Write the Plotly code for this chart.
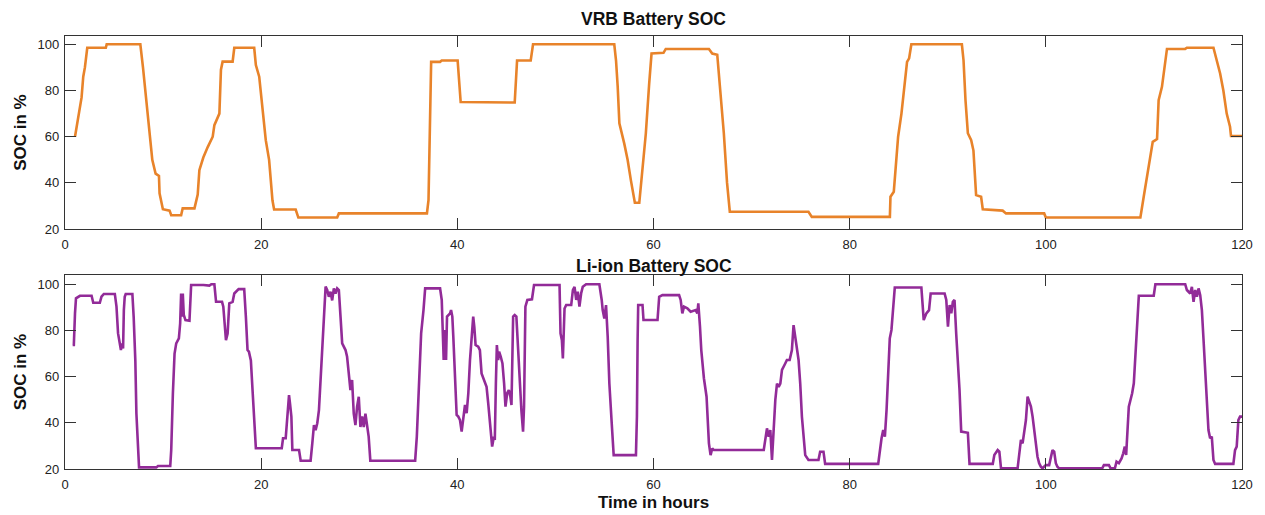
import plotly.graph_objects as go

# ---------------- data ----------------
vrb_t = [
    1.02, 1.25, 1.69, 1.86, 2.03, 2.27, 4.16, 4.25, 7.68, 7.95,
    8.29, 8.63, 8.9, 9.24, 9.58, 9.64, 9.98, 10.66, 10.83, 11.84,
    12.0, 13.2, 13.53, 13.7, 14.1, 14.55, 15.06, 15.23, 15.74, 15.9,
    16.07, 17.09, 17.26, 19.29, 19.46, 19.8, 20.13, 20.47, 20.81, 21.15,
    21.32, 23.52, 23.79, 27.75, 27.92, 36.9, 37.06, 37.13, 37.23, 37.33,
    38.24, 38.41, 40.03, 40.17, 40.34, 45.85, 45.92, 46.09, 47.48, 47.72,
    56.0, 56.18, 56.35, 56.52, 57.02, 57.36, 57.7, 58.1, 58.55, 58.88,
    59.22, 59.56, 59.8, 61.02, 61.25, 65.65, 65.99, 66.5, 66.84, 67.17,
    67.5, 67.78, 75.8, 76.14, 84.1, 84.16, 84.5, 84.7, 84.94, 85.28,
    85.52, 85.72, 85.85, 86.06, 86.29, 91.44, 91.61, 91.81, 92.05, 92.39,
    92.62, 92.89, 93.4, 93.57, 95.6, 95.94, 99.83, 100.0, 109.64, 109.98,
    110.32, 110.9, 111.34, 111.5, 111.84, 112.18, 112.35, 114.21, 114.38, 117.09,
    117.43, 117.77, 118.1, 118.44, 118.78, 118.88, 120.0,
]
vrb_soc = [
    60, 66, 77, 86, 90, 98.5, 98.5, 100, 100, 90,
    75.8, 61.5, 50, 44, 43, 35.5, 28.6, 28, 26, 26,
    29, 29, 35, 45.5, 51, 55.5, 60, 65, 70, 89,
    92.5, 92.5, 98.5, 98.5, 91, 86, 73, 58.5, 50, 32.5,
    28.5, 28.5, 25, 25, 26.8, 26.8, 32.5, 52.8, 63.5, 92.4,
    92.4, 93, 93, 86, 75, 74.8, 81.6, 93, 93, 100,
    100, 93, 81.6, 65.8, 57, 50, 41, 31.4, 31.4, 47,
    61.5, 83, 96, 96.3, 98, 98, 96, 95.5, 79, 61.5,
    40, 27.5, 27.5, 25.3, 25.3, 34, 36.2, 45.5, 60, 70,
    80, 86, 92.4, 93.9, 100, 100, 93, 75.8, 61.5, 58.5,
    54, 34.7, 34, 28.6, 28, 26.8, 26.8, 25, 25, 34,
    42.6, 57.8, 59, 75.8, 81.6, 93, 98, 98, 98.5, 98.5,
    93, 87.4, 80, 70, 64.3, 60.3, 60.3,
]

li_t = [
    0.78, 0.9, 1.02, 1.12, 1.52, 2.71, 2.88, 3.55, 3.72, 3.96,
    5.08, 5.25, 5.41, 5.58, 5.7, 5.79, 5.92, 6.0, 6.09, 6.19,
    6.87, 7.0, 7.17, 7.28, 7.45, 7.55, 9.31, 9.48, 10.73, 10.83,
    11.0, 11.17, 11.34, 11.61, 11.74, 11.84, 11.95, 12.01, 12.11, 12.28,
    12.69, 12.86, 14.11, 14.72, 14.92, 15.23, 15.4, 16.01, 16.14, 16.24,
    16.41, 16.58, 16.75, 17.09, 17.26, 17.7, 18.27, 18.44, 18.61, 18.75,
    18.85, 18.95, 19.12, 19.29, 19.46, 22.1, 22.23, 22.5, 22.67, 22.84,
    22.94, 23.08, 23.18, 23.86, 24.03, 25.04, 25.21, 25.38, 25.55, 25.72,
    25.89, 26.06, 26.23, 26.4, 26.57, 26.73, 26.9, 27.07, 27.24, 27.41,
    27.58, 27.75, 27.92, 28.09, 28.26, 28.6, 28.76, 28.93, 29.1, 29.27,
    29.44, 29.61, 29.78, 29.95, 30.12, 30.29, 30.46, 30.63, 30.79, 30.96,
    31.13, 35.7, 35.87, 36.04, 36.31, 36.55, 36.72, 38.24, 38.41, 38.51,
    38.61, 38.75, 38.85, 38.95, 39.09, 39.26, 39.36, 39.49, 39.59, 39.76,
    39.93, 40.1, 40.27, 40.44, 40.61, 40.78, 40.95, 41.12, 41.29, 41.46,
    41.62, 41.73, 41.86, 42.13, 42.3, 42.47, 42.74, 42.98, 43.15, 43.42,
    43.55, 43.72, 43.82, 43.93, 44.03, 44.16, 44.26, 44.43, 44.6, 44.77,
    44.91, 45.08, 45.25, 45.41, 45.52, 45.69, 45.85, 46.02, 46.19, 46.36,
    46.53, 46.7, 46.8, 46.94, 47.14, 47.61, 47.82, 50.42, 50.52, 50.66,
    50.76, 50.93, 51.1, 51.61, 51.78, 51.95, 52.12, 52.28, 52.45, 52.62,
    52.79, 53.13, 54.48, 54.72, 54.82, 54.99, 55.16, 55.33, 55.5, 55.74,
    55.94, 58.21, 58.31, 58.38, 58.44, 58.88, 58.98, 60.41, 60.58, 60.91,
    62.61, 62.77, 62.94, 63.11, 63.45, 63.79, 64.3, 64.47, 64.57, 64.74,
    64.87, 65.14, 65.41, 65.65, 65.82, 65.99, 66.16, 71.24, 71.4, 71.57,
    71.74, 71.91, 72.08, 72.25, 72.42, 72.59, 72.76, 72.93, 73.1, 73.43,
    73.6, 73.88, 74.11, 74.28, 74.45, 74.62, 74.79, 74.96, 75.13, 75.47,
    75.8, 76.82, 76.99, 77.33, 77.5, 82.91, 83.08, 83.25, 83.42, 83.59,
    83.76, 83.93, 84.09, 84.26, 84.43, 84.6, 87.31, 87.48, 87.55, 87.82,
    88.09, 88.26, 89.68, 89.85, 90.02, 90.19, 90.36, 90.52, 90.69, 90.86,
    91.03, 91.2, 91.37, 92.05, 92.22, 94.59, 94.75, 94.92, 95.09, 95.26,
    95.43, 97.12, 97.29, 97.46, 97.63, 97.8, 97.97, 98.14, 98.31, 98.48,
    98.65, 98.82, 98.98, 99.15, 99.32, 99.49, 99.66, 100.0, 100.34, 100.51,
    100.68, 100.85, 101.02, 101.18, 101.35, 105.75, 105.92, 106.43, 106.6, 107.04,
    107.21, 107.45, 107.72, 107.89, 108.05, 108.19, 108.29, 108.46, 108.63, 108.8,
    108.97, 109.14, 109.31, 109.48, 111.0, 111.17, 114.21, 114.38, 114.72, 114.89,
    115.06, 115.23, 115.4, 115.57, 115.74, 115.91, 116.07, 116.24, 116.41, 116.58,
    116.75, 116.92, 117.09, 117.26, 119.12, 119.29, 119.46, 119.63, 119.8, 120.0,
]
li_soc = [
    73.7, 73.7, 87.4, 93.9, 95.0, 95.0, 92.0, 92.0, 94.6, 95.8,
    95.8, 90.3, 78.7, 73.0, 71.5, 74.4, 72.2, 88.8, 94.6, 95.8,
    95.8, 86.0, 67.0, 44.0, 29.7, 20.7, 20.7, 21.3, 21.3, 28.2,
    52.8, 70.0, 74.4, 76.6, 83.0, 96.0, 86.0, 96.0, 86.7, 84.5,
    84.2, 99.7, 99.7, 99.4, 100, 100, 92.4, 92.4, 90.3, 84.5,
    75.8, 78.7, 91.7, 92.4, 96.0, 97.9, 97.9, 86.0, 71.5, 70.8,
    68.6, 67.0, 54.2, 42.7, 29.0, 29.0, 33.3, 33.3, 41.2, 52.0,
    48.4, 42.7, 28.2, 28.2, 23.6, 23.6, 31.0, 39.0, 36.8, 39.8,
    45.5, 58.5, 71.5, 86.0, 99.0, 97.5, 94.6, 96.8, 93.0, 98.2,
    96.0, 98.2, 97.5, 86.0, 74.4, 71.5, 68.6, 61.4, 54.2, 58.5,
    44.0, 39.0, 47.0, 51.3, 38.2, 42.7, 38.2, 44.0, 39.8, 34.0,
    23.6, 23.6, 34.0, 49.9, 78.7, 88.8, 98.2, 98.2, 93.2, 80.2,
    67.2, 80.2, 67.2, 86.0, 86.7, 87.4, 88.8, 86.0, 77.3, 60.0,
    43.4, 42.7, 41.2, 36.2, 41.2, 47.7, 44.2, 52.8, 67.2, 78.7,
    86.0, 81.6, 73.7, 73.0, 71.5, 61.4, 58.5, 55.6, 48.4, 36.9,
    29.7, 34.0, 32.6, 57.0, 73.7, 67.2, 70.8, 68.6, 65.7, 57.0,
    47.0, 52.8, 54.2, 51.3, 47.7, 86.0, 86.7, 86.0, 71.5, 62.9,
    45.5, 36.2, 47.0, 90.3, 93.2, 93.5, 99.7, 99.7, 78.7, 75.8,
    67.9, 89.5, 91.0, 91.0, 97.5, 98.9, 93.2, 96.8, 90.3, 96.0,
    98.9, 100, 100, 93.2, 88.8, 85.2, 91.0, 77.3, 57.0, 39.8,
    26.0, 26.0, 42.7, 75.8, 91.0, 91.0, 84.5, 84.5, 94.6, 95.3,
    95.3, 93.2, 87.4, 90.3, 89.6, 88.1, 88.8, 87.4, 91.7, 81.6,
    71.5, 59.3, 51.3, 31.1, 26.0, 28.9, 28.2, 28.2, 34.0, 37.6,
    34.0, 36.9, 23.9, 36.9, 49.9, 57.0, 55.6, 57.0, 62.9, 65.7,
    67.2, 67.2, 71.5, 82.3, 76.6, 71.5, 67.2, 57.0, 42.7, 26.0,
    23.9, 23.9, 27.5, 27.5, 22.2, 22.2, 28.2, 33.3, 36.9, 34.0,
    45.5, 62.9, 76.6, 80.2, 89.6, 98.6, 98.6, 88.1, 84.5, 87.4,
    88.8, 96.0, 96.0, 93.2, 81.6, 91.0, 87.4, 92.4, 93.2, 78.7,
    67.2, 54.2, 36.2, 35.7, 22.2, 22.2, 26.1, 27.5, 28.2, 27.5,
    20.3, 20.3, 26.1, 32.6, 31.1, 36.9, 41.2, 51.3, 49.1, 47.0,
    42.7, 36.9, 29.7, 25.3, 22.5, 21.0, 20.3, 21.7, 21.7, 25.3,
    28.2, 27.5, 22.5, 21.0, 20.3, 20.3, 21.7, 21.7, 20.3, 20.3,
    23.2, 22.5, 24.6, 26.8, 29.7, 26.1, 32.6, 47.0, 49.9, 52.8,
    57.1, 71.5, 86.0, 95.0, 95.0, 100, 100, 97.5, 96.0, 98.9,
    92.4, 97.5, 94.6, 98.2, 95.3, 88.8, 76.6, 64.3, 49.9, 36.9,
    33.3, 34.0, 23.9, 22.2, 22.2, 28.2, 29.7, 41.2, 42.7, 42.7,
]

x_ticks = [0, 20, 40, 60, 80, 100, 120]
y_ticks = [20, 40, 60, 80, 100]

top_title = "VRB Battery SOC"
bottom_title = "Li-ion Battery SOC"
x_label = "Time in hours"
y_label = "SOC in %"

# ---------------- figure ----------------
ORANGE = "#E8832A"
PURPLE = "#922B98"
FONT = "Arial, Liberation Sans, sans-serif"

fig = go.Figure()
fig.add_trace(go.Scatter(x=vrb_t, y=vrb_soc, mode="lines",
                         line=dict(color=ORANGE, width=2.6),
                         xaxis="x", yaxis="y", showlegend=False))
fig.add_trace(go.Scatter(x=li_t, y=li_soc, mode="lines",
                         line=dict(color=PURPLE, width=2.6),
                         xaxis="x2", yaxis="y2", showlegend=False))

axis_common = dict(
    showline=True, linecolor="#333333", linewidth=1.3, mirror="ticks",
    ticks="inside", ticklen=11, tickwidth=1.3, tickcolor="#333333",
    showgrid=False, zeroline=False,
    tickfont=dict(family=FONT, size=13, color="#222222"),
)

fig.update_layout(
    width=1265, height=515,
    margin=dict(l=65, r=18, t=36, b=46),
    paper_bgcolor="white", plot_bgcolor="white",
    xaxis=dict(domain=[0, 1], anchor="y", range=[0, 120],
               tickvals=x_ticks, ticklabelstandoff=3, **axis_common),
    yaxis=dict(domain=[0.554, 1], anchor="x", range=[20, 103.6],
               tickvals=y_ticks, ticklabelstandoff=2, **axis_common),
    xaxis2=dict(domain=[0, 1], anchor="y2", range=[0, 120],
                tickvals=x_ticks, ticklabelstandoff=3, **axis_common),
    yaxis2=dict(domain=[0, 0.448], anchor="x2", range=[20, 104.0],
                tickvals=y_ticks, ticklabelstandoff=2, **axis_common),
)

ann_font = dict(family=FONT, size=17.5, color="#111111")
fig.add_annotation(text="<b>" + top_title + "</b>", xref="paper", yref="paper",
                   x=0.5, y=1.0393, xanchor="center", yanchor="middle",
                   showarrow=False, font=ann_font)
fig.add_annotation(text="<b>" + bottom_title + "</b>", xref="paper", yref="paper",
                   x=0.5, y=0.4688, xanchor="center", yanchor="middle",
                   showarrow=False, font=ann_font)
fig.add_annotation(text="<b>" + x_label + "</b>", xref="paper", yref="paper",
                   x=0.5, y=-0.0785, xanchor="center", yanchor="middle",
                   showarrow=False, font=dict(family=FONT, size=17, color="#111111"))
fig.add_annotation(text="<b>" + y_label + "</b>", xref="paper", yref="paper",
                   x=-0.038, y=0.777, xanchor="center", yanchor="middle",
                   textangle=-90, showarrow=False,
                   font=dict(family=FONT, size=17, color="#111111"))
fig.add_annotation(text="<b>" + y_label + "</b>", xref="paper", yref="paper",
                   x=-0.038, y=0.224, xanchor="center", yanchor="middle",
                   textangle=-90, showarrow=False,
                   font=dict(family=FONT, size=17, color="#111111"))

fig.write_html("out.html", config={"displayModeBar": False},
               post_script="document.body.style.margin='0';document.body.style.padding='0';")
